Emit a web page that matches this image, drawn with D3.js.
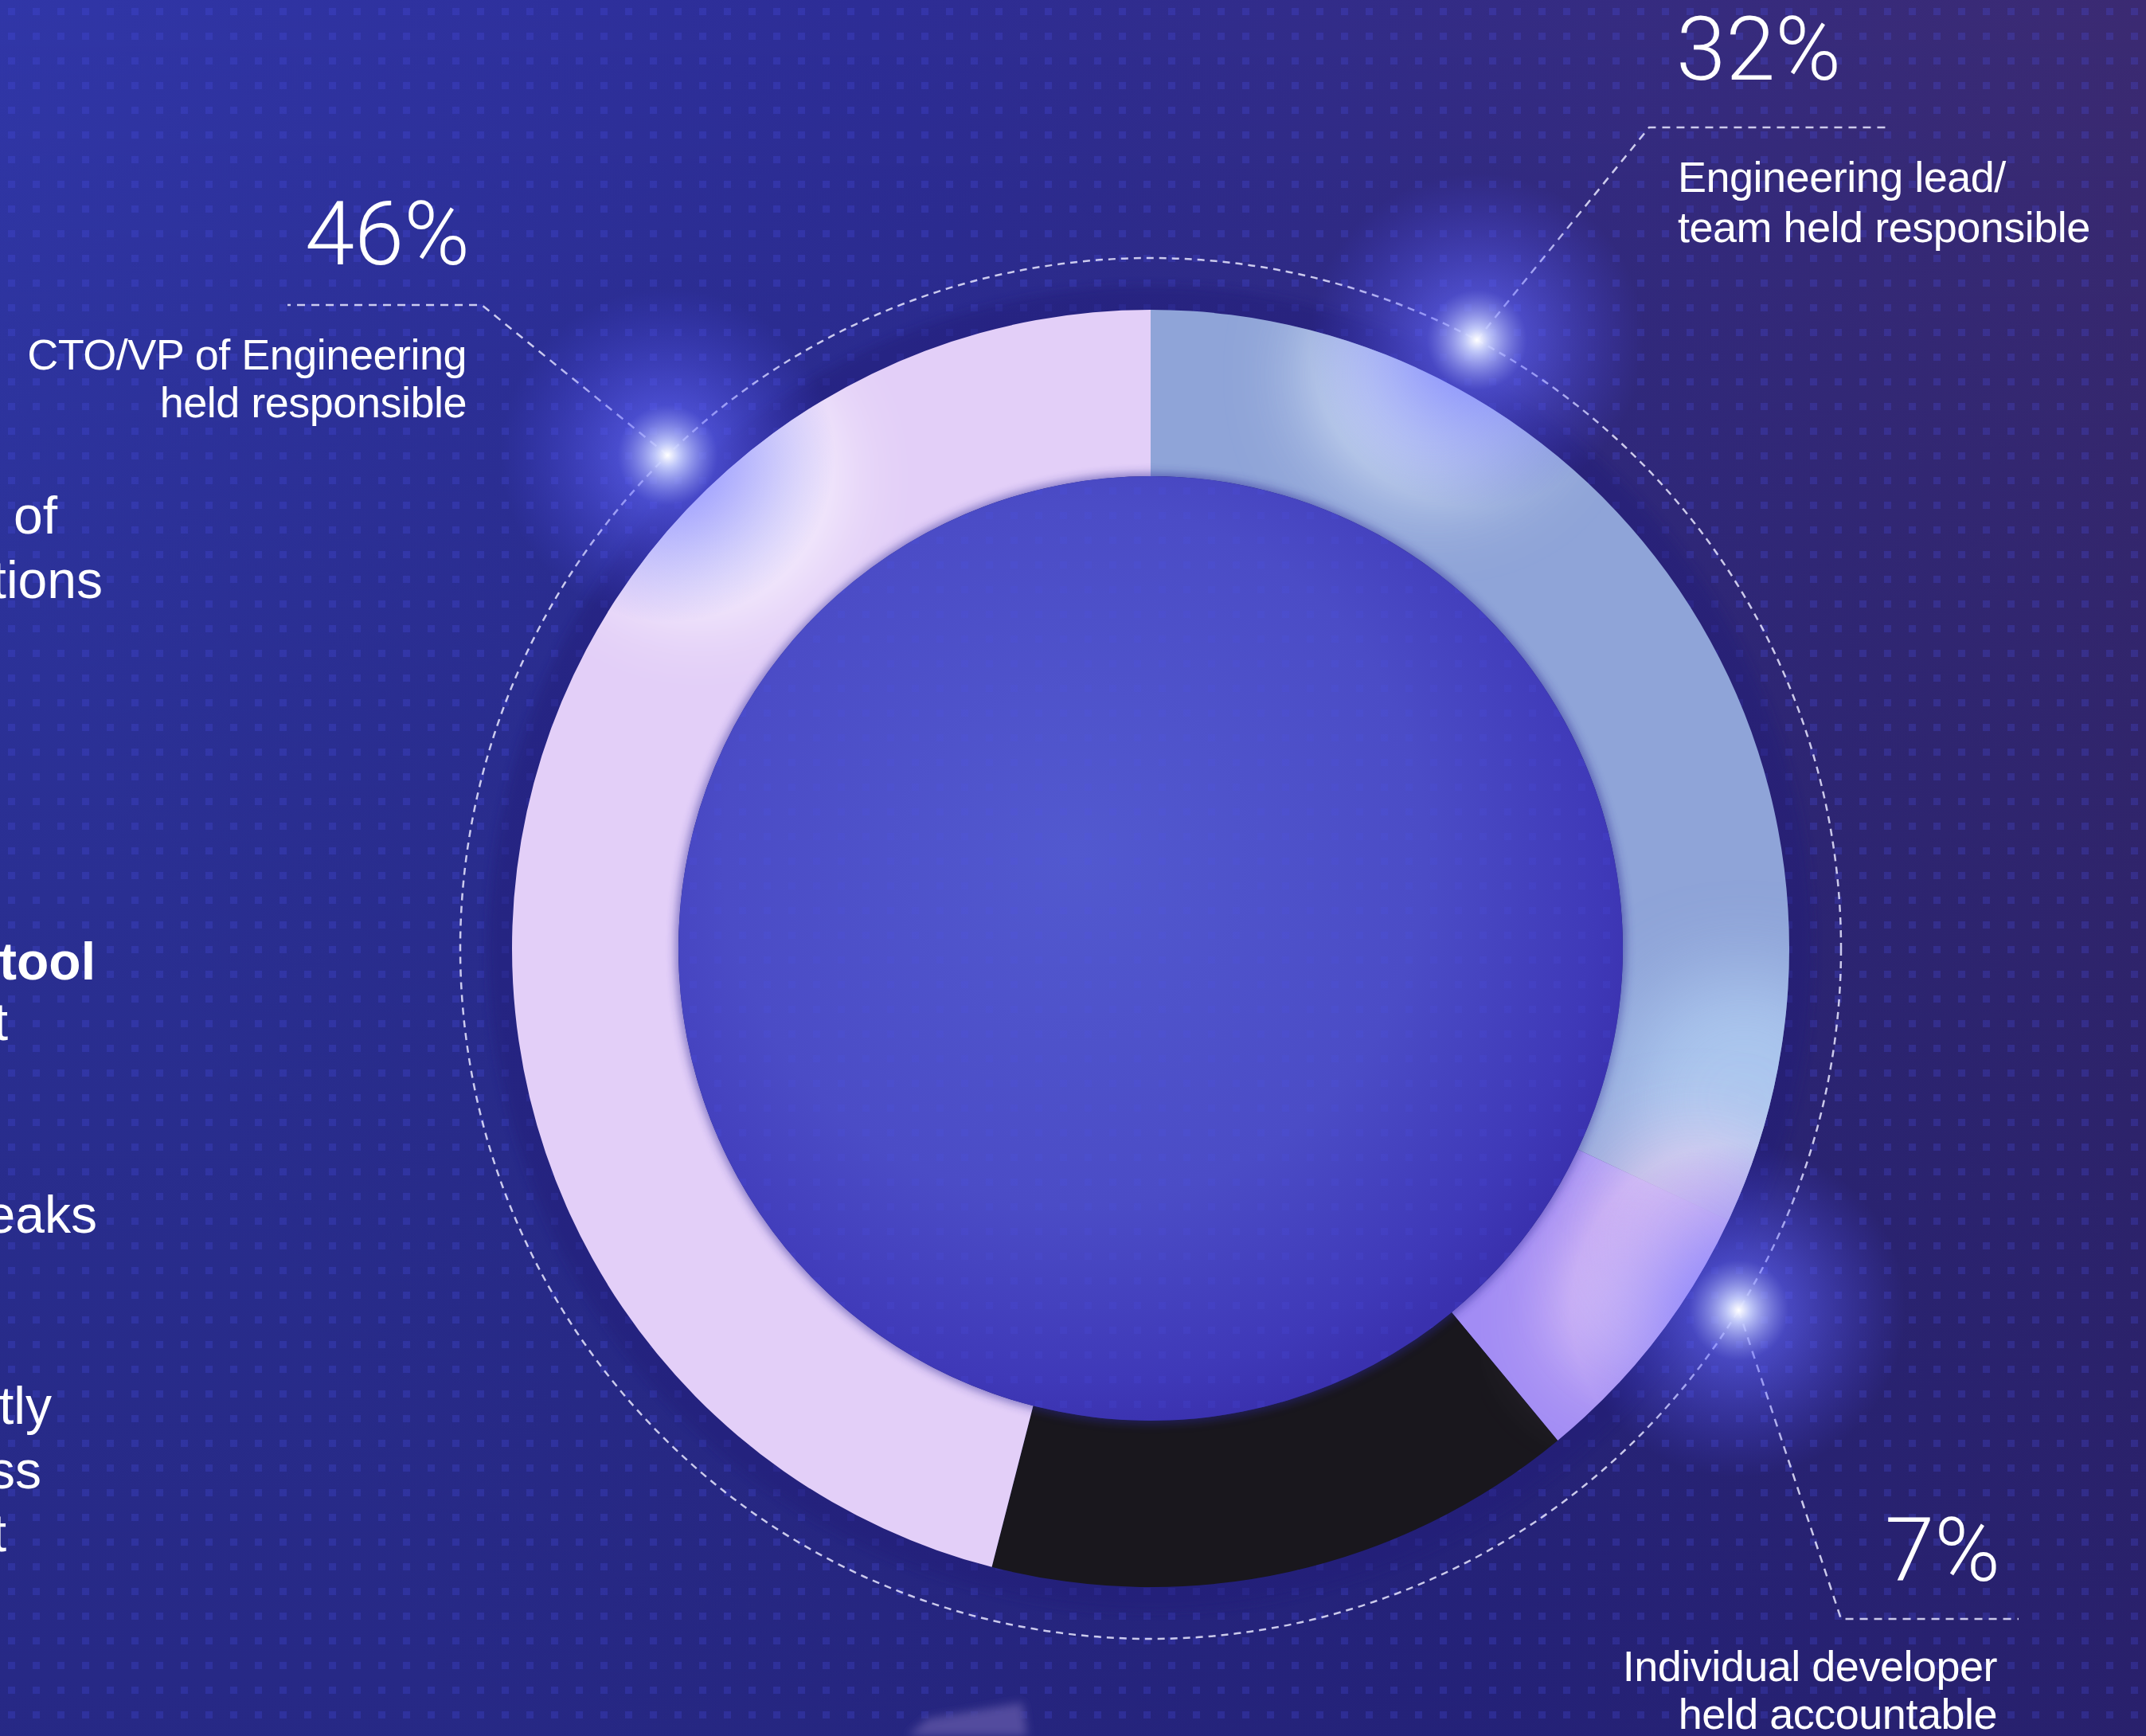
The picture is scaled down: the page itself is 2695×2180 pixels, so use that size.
<!DOCTYPE html>
<html>
<head>
<meta charset="utf-8">
<script src="https://cdn.jsdelivr.net/npm/d3@7"></script>
<style>
  html, body { margin: 0; padding: 0; background: #2e2f98; overflow: hidden; }
  svg { display: block; }
</style>
</head>
<body>
<div id="chart"></div>
<script>
// share of who is held responsible, clockwise from 12 o'clock
var segments = ["Engineering lead/team", "Individual developer", "Other", "CTO/VP of Engineering"];
var shares = [32, 7, 15, 46];
var sliceColors = ["#8fa4d8", "#a28cf4", "#19171d", "#e3cff8"];

// callouts (only three slices are labelled)
var calloutSegment = ["CTO/VP of Engineering", "Engineering lead/team", "Individual developer"];
var calloutValue = ["46%", "32%", "7%"];
var calloutLines = [
  ["CTO/VP of Engineering", "held responsible"],
  ["Engineering lead/", "team held responsible"],
  ["Individual developer", "held accountable"]
];

// cropped body text on the left edge
var sideText = ["of", "tions", "tool", "t", "eaks", "tly", "ss", "t"];
var sideBold = [false, false, true, false, false, false, false, false];

var W = 2695, H = 2180;
var cx = 1445, cy = 1191;
var rOuter = 802, rInner = 593, rDash = 867;

var svg = d3.select("#chart").append("svg").attr("width", W).attr("height", H);
var defs = svg.append("defs");

// background gradient
var bg = defs.append("linearGradient").attr("id", "bg").attr("x1", 0).attr("y1", 0.3).attr("x2", 1).attr("y2", 0);
bg.append("stop").attr("offset", 0).attr("stop-color", "#3138ab");
bg.append("stop").attr("offset", 0.45).attr("stop-color", "#2d2d96");
bg.append("stop").attr("offset", 1).attr("stop-color", "#3b2a72");

var bg2 = defs.append("linearGradient").attr("id", "bgShade").attr("x1", 0).attr("y1", 0).attr("x2", 0).attr("y2", 1);
bg2.append("stop").attr("offset", 0).attr("stop-color", "#000").attr("stop-opacity", 0);
bg2.append("stop").attr("offset", 1).attr("stop-color", "#140c40").attr("stop-opacity", 0.35);

var inner = defs.append("radialGradient").attr("id", "inner").attr("cx", 0.42).attr("cy", 0.4).attr("r", 0.62);
inner.append("stop").attr("offset", 0).attr("stop-color", "#5259cf");
inner.append("stop").attr("offset", 0.6).attr("stop-color", "#4b4cc6");
inner.append("stop").attr("offset", 0.9).attr("stop-color", "#3f39b8");
inner.append("stop").attr("offset", 1).attr("stop-color", "#3a31ae");

var glow = defs.append("radialGradient").attr("id", "glow");
glow.append("stop").attr("offset", 0).attr("stop-color", "#ffffff").attr("stop-opacity", 1);
glow.append("stop").attr("offset", 0.07).attr("stop-color", "#c8d0ff").attr("stop-opacity", 0.95);
glow.append("stop").attr("offset", 0.3).attr("stop-color", "#6266ff").attr("stop-opacity", 0.55);
glow.append("stop").attr("offset", 1).attr("stop-color", "#4b4cf0").attr("stop-opacity", 0);

defs.append("filter").attr("id", "blur").attr("x", "-50%").attr("y", "-50%").attr("width", "200%").attr("height", "200%")
  .append("feGaussianBlur").attr("stdDeviation", 55);
defs.append("filter").attr("id", "soft").attr("x", "-20%").attr("y", "-20%").attr("width", "140%").attr("height", "140%")
  .append("feGaussianBlur").attr("stdDeviation", 6);

var grid = defs.append("pattern").attr("id", "grid").attr("patternUnits", "userSpaceOnUse")
  .attr("width", 31).attr("height", 31);
grid.append("rect").attr("x", 10).attr("y", 10).attr("width", 9).attr("height", 9)
  .attr("fill", "#4f50f0").attr("opacity", 0.22);

svg.append("rect").attr("width", W).attr("height", H).attr("fill", "url(#bg)");
svg.append("rect").attr("width", W).attr("height", H).attr("fill", "url(#bgShade)");
svg.append("rect").attr("width", W).attr("height", H).attr("fill", "url(#grid)");

// faint shape peeking in at the bottom
svg.append("path").attr("d", "M1140,2180 L1165,2158 L1284,2138 L1290,2180 Z")
  .attr("fill", "#524c9e").attr("filter", "url(#soft)");

var g = svg.append("g").attr("transform", "translate(" + cx + "," + cy + ")");

// dark halo behind the ring
g.append("circle").attr("r", rOuter + 30).attr("fill", "#221f78").attr("opacity", 0.45).attr("filter", "url(#soft)");

// dashed orbit
g.append("circle").attr("r", rDash).attr("fill", "none")
  .attr("stroke", "#e8e6ff").attr("stroke-width", 2.5).attr("stroke-dasharray", "9 7").attr("opacity", 0.85);

var pie = d3.pie().sort(null).value(function(d) { return d; });
var arc = d3.arc().innerRadius(rInner).outerRadius(rOuter);
var arcs = pie(shares);

defs.append("clipPath").attr("id", "ringClip")
  .attr("transform", "translate(" + cx + "," + cy + ")")
  .selectAll("path").data(arcs).enter().append("path").attr("d", arc);

g.selectAll("path.slice").data(arcs).enter().append("path")
  .attr("class", "slice")
  .attr("d", arc)
  .attr("fill", function(d, i) { return sliceColors[i]; });

// highlights on the ring
var hl = svg.append("g").attr("clip-path", "url(#ringClip)");
var highlights = [
  { x: 1800, y: 470, r: 150, c: "#e8f4ff", o: 0.8 },
  { x: 2190, y: 1380, r: 160, c: "#b8d6f8", o: 0.7 },
  { x: 880, y: 600, r: 170, c: "#ffffff", o: 0.85 },
  { x: 2130, y: 1560, r: 130, c: "#f6d4f4", o: 0.85 },
  { x: 2040, y: 1650, r: 90, c: "#ffe6fa", o: 0.6 }
];
hl.selectAll("circle").data(highlights).enter().append("circle")
  .attr("cx", function(d) { return d.x; }).attr("cy", function(d) { return d.y; })
  .attr("r", function(d) { return d.r; }).attr("fill", function(d) { return d.c; })
  .attr("opacity", function(d) { return d.o; }).attr("filter", "url(#blur)");

// inner sphere
g.append("circle").attr("r", rInner + 4).attr("fill", "#2c2596").attr("opacity", 0.5).attr("filter", "url(#soft)");
g.append("circle").attr("r", rInner).attr("fill", "url(#inner)");
g.append("circle").attr("r", rInner).attr("fill", "url(#grid)").attr("opacity", 0.6);

// callouts: angle (deg, clockwise from top) on the orbit, elbow and end of the leader
var calloutAnchor = [315.6, 28.2, 121.6];
var calloutElbow = [[605, 383], [2071, 160], [2312, 2033]];
var calloutEnd = [[361, 383], [2372, 160], [2535, 2033]];
var calloutTextX = [590, 2105, 2512];
var calloutAlign = ["end", "start", "end"];
var calloutValueY = [332, 100, 1985];
var calloutLineY = [[464, 524], [241, 304], [2111, 2171]];

var anchors = calloutAnchor.map(function(a) {
  var t = a * Math.PI / 180;
  return [cx + rDash * Math.sin(t), cy - rDash * Math.cos(t)];
});

var line = d3.line();
svg.selectAll("path.leader").data(anchors).enter().append("path")
  .attr("class", "leader")
  .attr("d", function(p, i) { return line([p, calloutElbow[i], calloutEnd[i]]); })
  .attr("fill", "none").attr("stroke", "#e8e6ff").attr("stroke-width", 2.5)
  .attr("stroke-dasharray", "10 8").attr("opacity", 0.85);

svg.selectAll("circle.glow").data(anchors).enter().append("circle")
  .attr("class", "glow")
  .attr("cx", function(p) { return p[0]; }).attr("cy", function(p) { return p[1]; })
  .attr("r", 210).attr("fill", "url(#glow)");

svg.selectAll("text.value").data(calloutValue).enter().append("text")
  .attr("class", "value")
  .attr("x", function(d, i) { return calloutTextX[i]; })
  .attr("y", function(d, i) { return calloutValueY[i]; })
  .attr("text-anchor", function(d, i) { return calloutAlign[i]; })
  .attr("fill", "#ffffff")
  .style("font-family", "Roboto, 'Liberation Sans', sans-serif")
  .style("font-weight", 300)
  .style("font-size", "112px")
  .text(function(d) { return d; });

calloutLines.forEach(function(lines, i) {
  svg.selectAll(null).data(lines).enter().append("text")
    .attr("x", calloutTextX[i] - (calloutAlign[i] == "end" ? 4 : -2))
    .attr("y", function(d, j) { return calloutLineY[i][j]; })
    .attr("text-anchor", calloutAlign[i])
    .attr("fill", "#ffffff")
    .style("font-family", "'Liberation Sans', Arial, sans-serif")
    .style("font-size", "54px")
    .style("letter-spacing", "-0.5px")
    .text(function(d) { return d; });
});

// left column, cut off by the frame
var sideX = [72, 129, 120, 10, 122, 65, 52, 8];
var sideY = [670, 751, 1230, 1306, 1548, 1788, 1869, 1948];
svg.selectAll("text.side").data(sideText).enter().append("text")
  .attr("class", "side")
  .attr("x", function(d, i) { return sideX[i]; })
  .attr("y", function(d, i) { return sideY[i]; })
  .attr("text-anchor", "end")
  .attr("fill", "#ffffff")
  .style("font-family", "'Liberation Sans', Arial, sans-serif")
  .style("font-size", "66px")
  .style("font-weight", function(d, i) { return sideBold[i] ? 700 : 400; })
  .text(function(d) { return d; });
</script>
</body>
</html>
